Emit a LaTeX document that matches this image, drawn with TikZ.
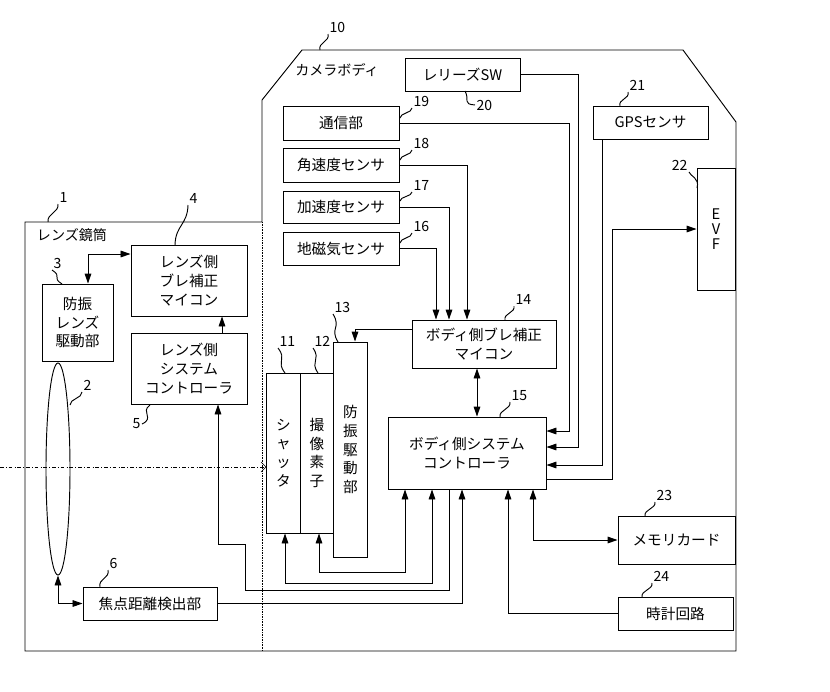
\documentclass[tikz,border=0pt]{standalone}
\usepackage{fontspec}
\setmainfont{Noto Sans CJK JP}
\usetikzlibrary{arrows.meta,shapes.geometric,calc}
\tikzset{
  blk/.style={draw,thick,fill=white,align=center,inner sep=1pt,font=\fontsize{12.5}{16}\selectfont},
  lbl/.style={font=\fontsize{12}{14}\selectfont,inner sep=1pt},
  >={Triangle[length=0.3cm,width=0.2cm]}
}
\newcommand{\blockpt}[5][]{\node[blk,minimum width=#4,minimum height=#5,#1] (#2) at (#3)}
\newcommand{\leadto}[3]{\draw (#1) .. controls ($(#1)!0.5!(#2)+(-6,0)$) and ($(#1)!0.5!(#2)+(6,0)$) .. (#2) node[lbl,anchor=south west] {#3}}

\begin{document}
\begin{tikzpicture}[x=0.03cm,y=-0.03cm,thick]
					\useasboundingbox (0,0) rectangle (830,692);
					% outlines
					\draw (262,222) -- (25,222) -- (25,651) -- (736,651) -- (736,122) -- (683,50) -- (302,50) -- (262,100) -- (262,222);
					\draw[densely dotted,thin] (262,222) -- (262,651);
					\node[lbl] at (337,70) {カメラボディ};
					\node[lbl] at (72,235) {レンズ鏡筒};
					
					\blockpt{rel}{462.5,74.5}{3.45cm}{0.99cm} {レリーズSW};
					\blockpt{com}{341,123}{3.48cm}{1.02cm} {通信部};
					\blockpt{gyro}{341,165}{3.48cm}{1.02cm} {角速度センサ};
					\blockpt{acc}{341,207}{3.48cm}{0.96cm} {加速度センサ};
					\blockpt{mag}{341,248.5}{3.48cm}{0.99cm} {地磁気センサ};
					\blockpt{gps}{650.5,122.5}{3.45cm}{0.99cm} {GPSセンサ};
					\blockpt{evf}{716,229}{1.14cm}{3.66cm} {E\\[-3pt]V\\[-3pt]F};
					
					\blockpt{lmc}{189,280.5}{3.48cm}{2.13cm} {レンズ側\\ブレ補正\\マイコン};
					\blockpt{ldrv}{77.5,322.5}{2.13cm}{2.31cm} {防振\\レンズ\\駆動部};
					\blockpt{lsc}{189,368.5}{3.48cm}{2.13cm} {レンズ側\\システム\\コントローラ};
					\node[draw,ellipse,minimum width=0.72cm,minimum height=6.36cm] (lens) at (58,469) {};
					\blockpt{foc}{150,603.5}{4.02cm}{0.99cm} {焦点距離検出部};
					
					\blockpt{shut}{283.5,453}{1.0cm}{4.8cm} {シ\\ャ\\ッ\\タ};
					\blockpt{img}{317,453}{1.0cm}{4.8cm} {撮\\像\\素\\子};
					\blockpt{ois}{350.5,449.5}{1.0cm}{6.45cm} {防\\振\\駆\\動\\部};
					\blockpt{bmc}{484,344}{4.32cm}{1.44cm} {ボディ側ブレ補正\\マイコン};
					\blockpt{sysc}{467,453}{4.74cm}{2.16cm} {ボディ側システム\\コントローラ};
					\blockpt{mem}{676.5,540}{3.51cm}{1.44cm} {メモリカード};
					\blockpt{clk}{675.5,613.5}{3.45cm}{0.99cm} {時計回路};
					
					% optical axis
					\draw[thin,dash dot,-{Straight Barb[length=1.5mm]}] (0,467) -- (shut.west |- 0,467);
					
					% connectors
					\draw[->] (gyro.east) -| (bmc.north -| 467,0);
					\draw[->] (acc.east) -| (bmc.north -| 449,0);
					\draw[->] (mag.east) -| (bmc.north -| 436,0);
					\draw[->] (com.east) -| (569,431) -- (sysc.east |- 0,431);
					\draw[->] (rel.east) -| (578,447) -- (sysc.east |- 0,447);
					\draw[->] (gps.south -| 602,0) -- (602,465) -- (sysc.east |- 0,465);
					\draw[->] (sysc.east |- 0,479) -| (612,229) -- (evf.west |- 0,229);
					\draw[->] (bmc.west |- 0,329) -| (ois.north -| 355,0);
					\draw[<->] (bmc.south -| 477,0) -- (sysc.north -| 477,0);
					\draw[<->] (sysc.south -| 405,0) -- (405,572) -| (img.south -| 319,0);
					\draw[<->] (sysc.south -| 432,0) -- (432,583) -| (shut.south -| 285,0);
					\draw[->] (sysc.south -| 449,0) -- (449,590) -- (245,590) -- (245,544) -| (lsc.south -| 218,0);
					\draw[->] (foc.east) -| (sysc.south -| 462,0);
					\draw[->] (clk.west) -| (sysc.south -| 508,0);
					\draw[<->] (sysc.south -| 533,0) |- (mem.west);
					\draw[->] (lsc.north -| 222,0) -- (lmc.south -| 222,0);
					\draw[<->] (lmc.west |- 0,254) -| (ldrv.north -| 88,0);
					\draw[<->] (lens.south) |- (foc.west);
					
					% reference numbers
					\leadto{48,222}{58,204}{1};
					\leadto{175,245}{188,205}{4};
					\leadto{62,284}{52,270}{3};
					\leadto{70,405}{82,392}{2};
					\draw (150,405) .. controls (140,412) and (155,418) .. (142,424) node[lbl,anchor=east] {5};
					\leadto{100,587}{108,570}{6};
					\leadto{320,50}{328,34}{10};
					\draw (465,91) .. controls (470,100) and (462,104) .. (475,105) node[lbl,anchor=west] {20};
					\leadto{400,118}{412,108}{19};
					\leadto{400,160}{412,150}{18};
					\leadto{400,201}{412,192}{17};
					\leadto{400,243}{412,233}{16};
					\leadto{620,106}{628,92}{21};
					\draw (697,188) .. controls (700,178) and (690,176) .. (689,172) node[lbl,anchor=south east] {22};
					\leadto{338,342}{333,314}{13};
					\leadto{285,373}{278,348}{11};
					\leadto{318,373}{313,348}{12};
					\leadto{505,320}{514,306}{14};
					\leadto{500,417}{510,402}{15};
					\leadto{645,516}{655,502}{23};
					\leadto{642,597}{652,583}{24};
				\end{tikzpicture}
\end{document}
